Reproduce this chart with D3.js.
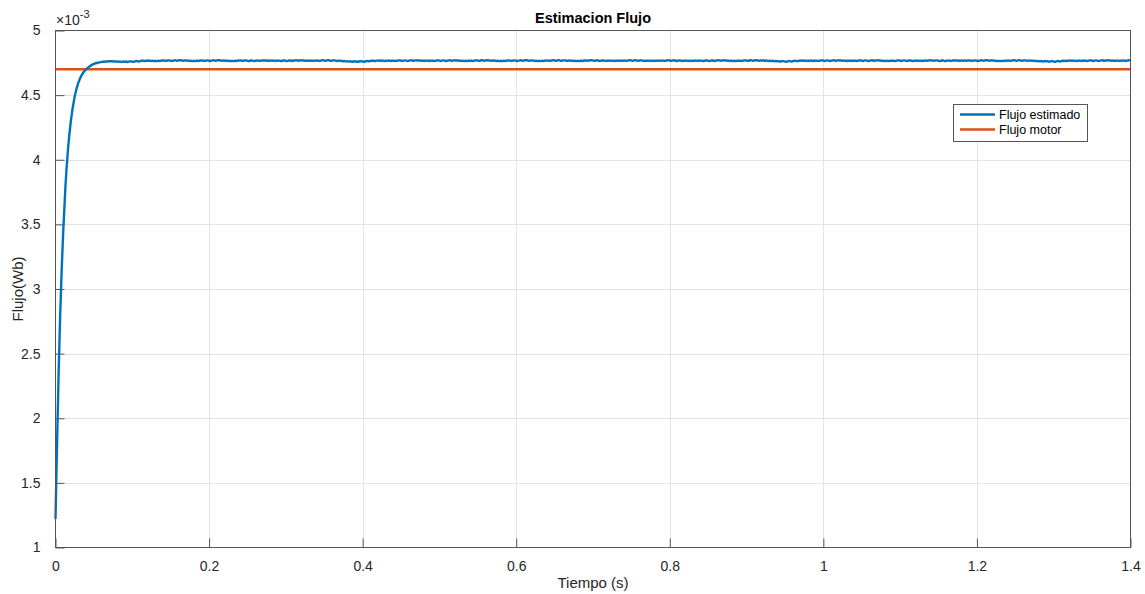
<!DOCTYPE html>
<html>
<head>
<meta charset="utf-8">
<script src="https://cdn.jsdelivr.net/npm/d3@7"></script>
<style>
  body { margin: 0; background: #fff; }
  svg { font-family: "Liberation Sans", Arial, sans-serif; }
  .grid line { stroke: #e3e3e3; stroke-width: 1; }
  .axis text { fill: #262626; font-size: 14px; }
</style>
</head>
<body>
<script>
var width = 1145,
    height = 594;

var margin = { left: 55.5, right: 1130.5, top: 30.5, bottom: 547.5 };

// rise of the estimated flux (s, x1e-3 Wb)
var riseT = [0, 0.002, 0.004, 0.006, 0.008, 0.010, 0.013, 0.016, 0.020, 0.025, 0.030, 0.035, 0.040, 0.045, 0.050, 0.056, 0.062, 0.070];
var riseV = [1.22, 1.80, 2.33, 2.78, 3.14, 3.44, 3.80, 4.06, 4.30, 4.49, 4.60, 4.665, 4.70, 4.725, 4.742, 4.752, 4.758, 4.762];

// steady part, one value every 0.01 s from 0.08 to 1.40
var steadyStart = 0.08, steadyStep = 0.01;
var steadyV = [
  4.760, 4.758, 4.759, 4.763, 4.766, 4.765, 4.767, 4.766, 4.768, 4.767,
  4.765, 4.767, 4.766, 4.768, 4.766, 4.765, 4.767, 4.766, 4.765, 4.767,
  4.768, 4.766, 4.765, 4.767, 4.768, 4.767, 4.766, 4.768, 4.767, 4.765,
  4.762, 4.759, 4.760, 4.764, 4.766, 4.767, 4.765, 4.767, 4.766, 4.768,
  4.767, 4.765, 4.767, 4.766, 4.768, 4.766, 4.765, 4.767, 4.768, 4.766,
  4.765, 4.767, 4.766, 4.768, 4.767, 4.765, 4.766, 4.768, 4.767, 4.766,
  4.765, 4.767, 4.768, 4.766, 4.765, 4.767, 4.766, 4.768, 4.767, 4.765,
  4.767, 4.766, 4.768, 4.766, 4.765, 4.767, 4.766, 4.765, 4.767, 4.768,
  4.766, 4.765, 4.767, 4.768, 4.767, 4.766, 4.762, 4.760, 4.762, 4.766,
  4.767, 4.765, 4.767, 4.766, 4.768, 4.767, 4.765, 4.767, 4.766, 4.768,
  4.766, 4.765, 4.767, 4.766, 4.765, 4.767, 4.768, 4.766, 4.765, 4.767,
  4.768, 4.767, 4.766, 4.768, 4.767, 4.765, 4.766, 4.768, 4.767, 4.766,
  4.764, 4.761, 4.760, 4.763, 4.766, 4.767, 4.765, 4.767, 4.766, 4.768,
  4.767, 4.766, 4.767
];

// small ripple added between the steady samples (x1e-3 Wb)
var ripple = [0.0025, -0.002, 0.0015, -0.0025, 0.002];

var motorT = [0, 1.4];
var motorV = [4.7, 4.7];

var xTicks = [0, 0.2, 0.4, 0.6, 0.8, 1, 1.2, 1.4];
var yTicks = [1, 1.5, 2, 2.5, 3, 3.5, 4, 4.5, 5];

var seriesNames = ["Flujo estimado", "Flujo motor"];
var seriesColors = ["#0072BD", "#D95319"];

var x = d3.scaleLinear().domain([0, 1.4]).range([margin.left, margin.right]);
var y = d3.scaleLinear().domain([1, 5]).range([margin.bottom, margin.top]);

// build estimated series
var estimated = riseT.map(function(t, i) { return [t, riseV[i]]; });
steadyV.forEach(function(v, i) {
  var t = steadyStart + i * steadyStep;
  estimated.push([t, v]);
  if (i < steadyV.length - 1) {
    var next = steadyV[i + 1];
    for (var k = 1; k < 5; k++) {
      estimated.push([t + k * steadyStep / 5, v + (next - v) * k / 5 + ripple[(i + k) % ripple.length]]);
    }
  }
});
var motor = motorT.map(function(t, i) { return [t, motorV[i]]; });

var svg = d3.select("body").append("svg")
    .attr("width", width)
    .attr("height", height);

// grid
svg.append("g").attr("class", "grid")
  .selectAll("line.v").data(xTicks.slice(1, -1)).enter().append("line")
  .attr("x1", function(d) { return Math.round(x(d)) + 0.5; })
  .attr("x2", function(d) { return Math.round(x(d)) + 0.5; })
  .attr("y1", margin.top).attr("y2", margin.bottom);
svg.select(".grid")
  .selectAll("line.h").data(yTicks.slice(1, -1)).enter().append("line")
  .attr("x1", margin.left).attr("x2", margin.right)
  .attr("y1", function(d) { return Math.round(y(d)) + 0.5; })
  .attr("y2", function(d) { return Math.round(y(d)) + 0.5; });

// axes (ticks inward, MATLAB style)
svg.append("g").attr("class", "axis")
  .attr("transform", "translate(0," + margin.bottom + ")")
  .call(d3.axisBottom(x).tickValues(xTicks).tickSizeInner(-9).tickSizeOuter(0).tickPadding(14)
    .tickFormat(function(d) { return d3.format("")(d); }));
svg.append("g").attr("class", "axis")
  .attr("transform", "translate(" + margin.left + ",0)")
  .call(d3.axisLeft(y).tickValues(yTicks).tickSizeInner(-9).tickSizeOuter(0).tickPadding(15)
    .tickFormat(function(d) { return d3.format("")(d); }));
svg.selectAll(".axis path").remove();
svg.selectAll(".axis line").attr("stroke", "#555");

// lines
var line = d3.line()
  .curve(d3.curveMonotoneX)
  .x(function(d) { return x(d[0]); })
  .y(function(d) { return y(d[1]); });

svg.append("path").datum(motor)
  .attr("d", line).attr("fill", "none")
  .attr("stroke", seriesColors[1]).attr("stroke-width", 2.4);

svg.append("path").datum(estimated)
  .attr("d", line).attr("fill", "none")
  .attr("stroke", seriesColors[0]).attr("stroke-width", 2.4)
  .attr("stroke-linejoin", "round");

// box
svg.append("rect")
  .attr("x", margin.left).attr("y", margin.top)
  .attr("width", margin.right - margin.left).attr("height", margin.bottom - margin.top)
  .attr("fill", "none").attr("stroke", "#555").attr("stroke-width", 1);

// exponent
var expo = svg.append("text").attr("x", 56).attr("y", 25)
  .attr("fill", "#262626").attr("font-size", 14);
expo.append("tspan").text("\u00d710");
expo.append("tspan").attr("dy", -7).attr("font-size", 11).text("-3");

// title and labels
svg.append("text").attr("x", (margin.left + margin.right) / 2).attr("y", 23)
  .attr("text-anchor", "middle").attr("font-weight", "bold").attr("font-size", 14.5)
  .attr("fill", "#000").text("Estimacion Flujo");

svg.append("text").attr("x", (margin.left + margin.right) / 2).attr("y", 588)
  .attr("text-anchor", "middle").attr("font-size", 15)
  .attr("fill", "#262626").text("Tiempo (s)");

svg.append("text")
  .attr("transform", "translate(23," + (margin.top + margin.bottom) / 2 + ") rotate(-90)")
  .attr("text-anchor", "middle").attr("font-size", 15)
  .attr("fill", "#262626").text("Flujo(Wb)");

// legend
var legend = svg.append("g");
legend.append("rect")
  .attr("x", 953.5).attr("y", 104.5).attr("width", 134).attr("height", 37)
  .attr("fill", "#fff").attr("stroke", "#555").attr("stroke-width", 1);
var items = legend.selectAll("g.item").data(seriesNames).enter().append("g")
  .attr("transform", function(d, i) { return "translate(0," + (114.5 + i * 15) + ")"; });
items.append("line")
  .attr("x1", 960).attr("x2", 995)
  .attr("stroke", function(d, i) { return seriesColors[i]; })
  .attr("stroke-width", 2.4);
items.append("text")
  .attr("x", 999).attr("y", 4.5)
  .attr("font-size", 12.5).attr("fill", "#000")
  .text(function(d) { return d; });
</script>
</body>
</html>
